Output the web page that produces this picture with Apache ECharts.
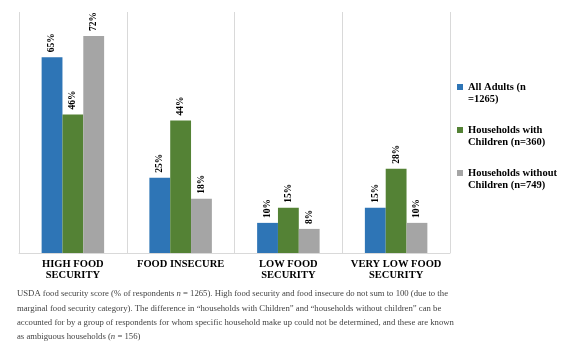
<!DOCTYPE html>
<html>
<head>
<meta charset="utf-8">
<script src="https://cdn.jsdelivr.net/npm/echarts@6/dist/echarts.min.js"></script>
<style>html,body{margin:0;padding:0;background:#fff;}#c{width:584px;height:347px;}</style>
</head>
<body>
<div id="c"></div>
<script>
const categories = ['HIGH FOOD\nSECURITY', 'FOOD INSECURE', 'LOW FOOD\nSECURITY', 'VERY LOW FOOD\nSECURITY'];
const seriesNames = ['All Adults (n =1265)', 'Households with Children (n=360)', 'Households without Children (n=749)'];
const legendLabels = ['All Adults (n\n=1265)', 'Households with\nChildren (n=360)', 'Households without\nChildren (n=749)'];
const allAdults = [65, 25, 10, 15];
const withChildren = [46, 44, 15, 28];
const withoutChildren = [72, 18, 8, 10];
const colors = ['#2E75B6', '#548235', '#A5A5A5'];

const chart = echarts.init(document.getElementById('c'));
const serif = '"Liberation Serif", "Times New Roman", serif';
const labelCfg = {
  show: true, position: 'top', rotate: 90, align: 'left', verticalAlign: 'middle',
  distance: 5, formatter: '{c}%', fontFamily: serif, fontWeight: 'bold', fontSize: 9.5, color: '#000'
};
const data = [allAdults, withChildren, withoutChildren];
chart.setOption({
  animation: false,
  color: colors,
  grid: { left: 19, right: 134, top: 12, bottom: 94 },
  title: {
    left: 12, top: 282,
    text: 'USDA food security score (% of respondents {i|n} = 1265). High food security and food insecure do not sum to 100 (due to the\nmarginal food security category). The difference in \u201chouseholds with Children\u201d and \u201chouseholds without children\u201d can be\naccounted for by a group of respondents for whom specific household make up could not be determined, and these are known\nas ambiguous households ({i|n} = 156)',
    textStyle: {
      fontFamily: serif, fontWeight: 'normal', fontSize: 8.7, color: '#444', lineHeight: 14.3,
      rich: { i: { fontStyle: 'italic', fontFamily: serif, fontSize: 8.7, color: '#444' } }
    }
  },
  legend: {
    orient: 'vertical', left: 452, top: 64,
    itemWidth: 6, itemHeight: 6, itemGap: 7, icon: 'rect',
    data: seriesNames,
    formatter: function (name) { return ' \n' + legendLabels[seriesNames.indexOf(name)]; },
    textStyle: { fontFamily: serif, fontWeight: 'bold', fontSize: 10.5, color: '#000', lineHeight: 12 }
  },
  xAxis: {
    type: 'category', data: categories,
    axisLine: { lineStyle: { color: '#d9d9d9' } },
    axisTick: { show: false },
    splitLine: { show: true, interval: 0, lineStyle: { color: '#d9d9d9' } },
    axisLabel: { interval: 0, fontFamily: serif, fontWeight: 'bold', fontSize: 10.5, color: '#000', lineHeight: 11, margin: 6 }
  },
  yAxis: { type: 'value', min: 0, max: 80, show: false, splitLine: { show: false } },
  series: seriesNames.map((n, i) => ({
    name: n, type: 'bar', data: data[i], barGap: 0, barCategoryGap: '42%',
    label: labelCfg
  }))
});
</script>
</body>
</html>
